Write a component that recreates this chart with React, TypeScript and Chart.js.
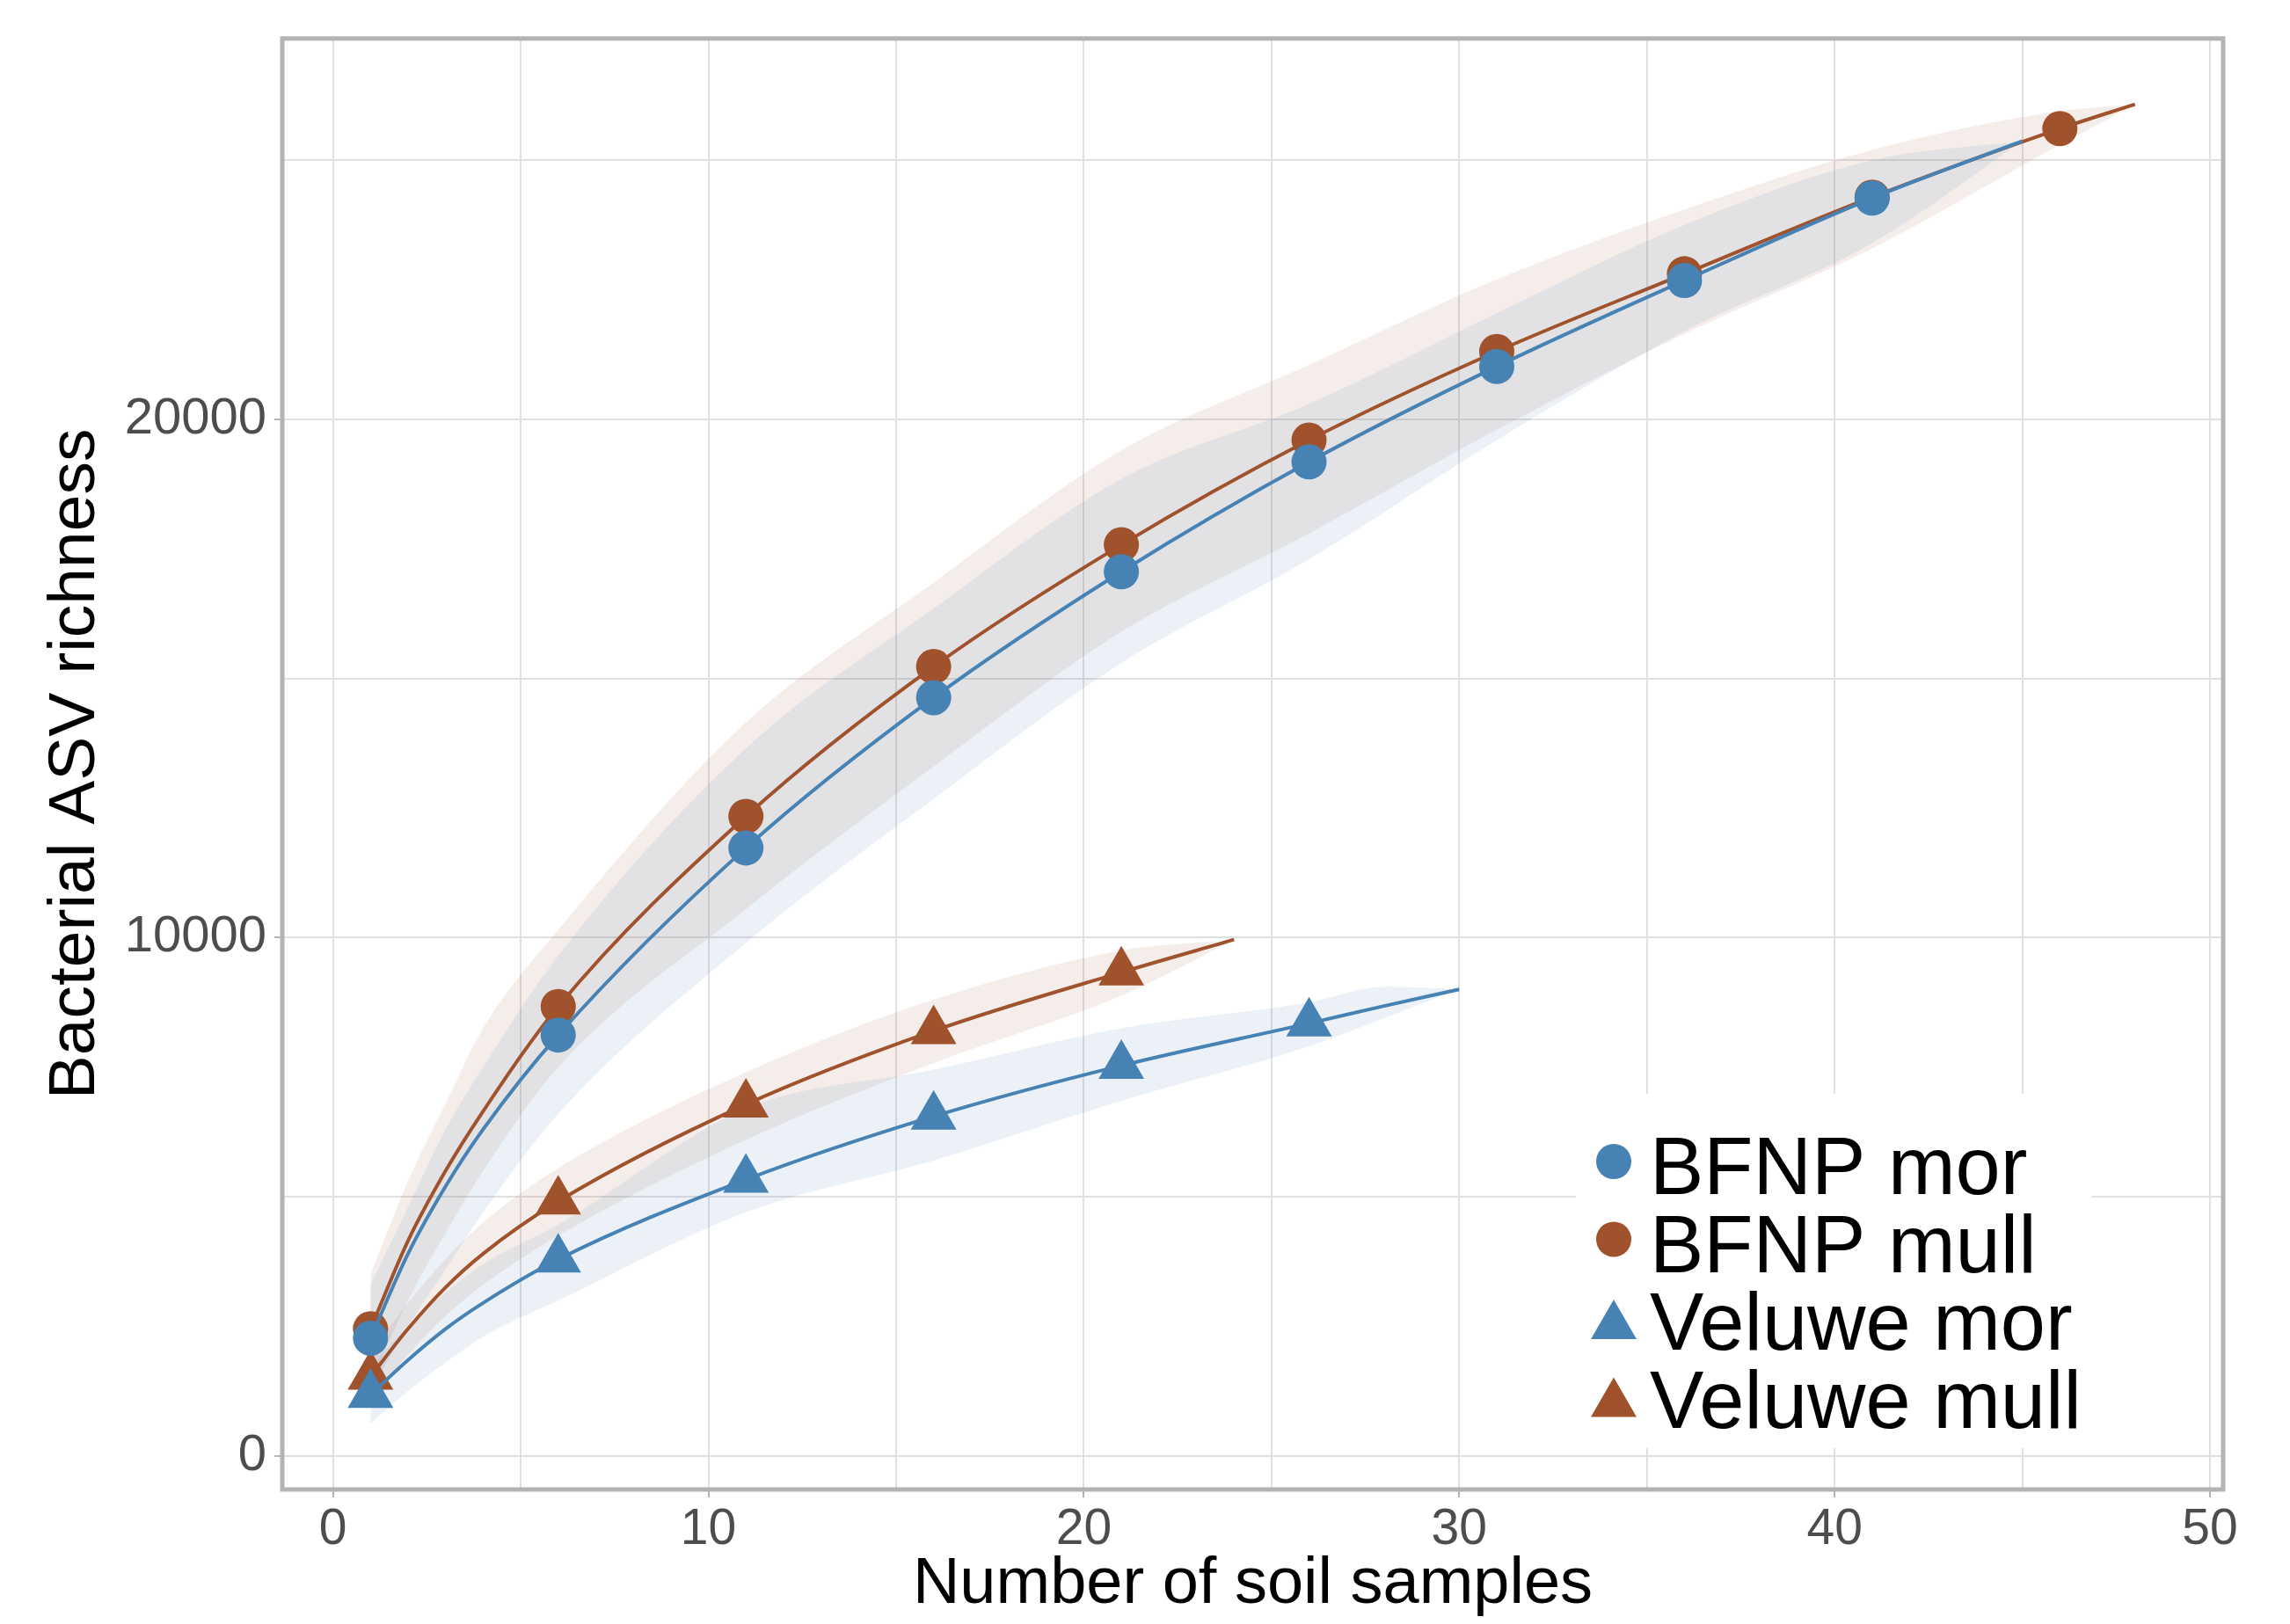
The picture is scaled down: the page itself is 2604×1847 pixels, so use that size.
import React, { useEffect, useRef } from 'react';
import { Chart, registerables } from 'chart.js';

Chart.register(...registerables);

// ---------------- data ----------------
const seriesLabels = ['BFNP mor', 'BFNP mull', 'Veluwe mor', 'Veluwe mull'];

const bfnpMorX = [1, 2, 3, 4, 6, 11, 16, 21, 26, 31, 36, 41, 45];
const bfnpMorY = [2270, 3900, 5200, 6300, 8120, 11730, 14630, 17060, 19180, 21020, 22680, 24270, 25370];
const bfnpMorUpper = [3300, 4800, 6300, 7500, 9650, 13650, 16350, 18850, 20300, 22050, 23750, 25000, 25370];
const bfnpMorLower = [1250, 2500, 3600, 4700, 6600, 9900, 12680, 15300, 17300, 19600, 21700, 23400, 25370];

const bfnpMullX = [1, 2, 3, 4, 6, 11, 16, 21, 26, 31, 36, 41, 46, 48];
const bfnpMullY = [2450, 4150, 5500, 6650, 8670, 12340, 15230, 17580, 19600, 21310, 22810, 24290, 25610, 26080];
const bfnpMullUpper = [3500, 5300, 6800, 8250, 10150, 14150, 16850, 19400, 21050, 22700, 24050, 25200, 25950, 26080];
const bfnpMullLower = [1400, 3000, 4300, 5500, 7500, 10550, 13300, 15900, 17800, 19800, 21650, 23300, 25300, 26080];

const veluweMorX = [1, 2, 3, 4, 6, 11, 16, 21, 26, 28, 30];
const veluweMorY = [1180, 1850, 2450, 2950, 3790, 5330, 6550, 7530, 8345, 8680, 9000];
const veluweMorUpper = [1700, 2500, 3150, 3700, 4460, 6700, 7450, 8250, 8750, 9050, 9000];
const veluweMorLower = [620, 1250, 1800, 2300, 3000, 4700, 5700, 6850, 7900, 8450, 9000];

const veluweMullX = [1, 2, 3, 4, 6, 11, 16, 21, 24];
const veluweMullY = [1530, 2450, 3250, 3900, 4910, 6780, 8200, 9330, 9960];
const veluweMullUpper = [2000, 2950, 3800, 4500, 5550, 7400, 8800, 9750, 9960];
const veluweMullLower = [1100, 1950, 2700, 3300, 4250, 6100, 7580, 8880, 9960];

const xGridValues = [0, 5, 10, 15, 20, 25, 30, 35, 40, 45, 50];
const yGridValues = [0, 5000, 10000, 15000, 20000, 25000];
const xTickLabels = [0, 10, 20, 30, 40, 50];
const yTickLabels = [0, 10000, 20000];

// ---------------- styling ----------------
const BLUE = '#4682B4';
const BROWN = '#A0522D';
const BLUE_BAND = 'rgba(70,130,180,0.11)';
const BROWN_BAND = 'rgba(160,82,45,0.10)';
const FONT = '"Liberation Sans", Arial, Helvetica, sans-serif';
const GRID = '#e0e0e0';
const BORDER = '#b3b3b3';

type Series = {
  label: string;
  xs: number[];
  ys: number[];
  upper: number[];
  lower: number[];
  color: string;
  band: string;
  shape: 'circle' | 'triangle';
};

const series: Series[] = [
  { label: seriesLabels[0], xs: bfnpMorX, ys: bfnpMorY, upper: bfnpMorUpper, lower: bfnpMorLower, color: BLUE, band: BLUE_BAND, shape: 'circle' },
  { label: seriesLabels[1], xs: bfnpMullX, ys: bfnpMullY, upper: bfnpMullUpper, lower: bfnpMullLower, color: BROWN, band: BROWN_BAND, shape: 'circle' },
  { label: seriesLabels[2], xs: veluweMorX, ys: veluweMorY, upper: veluweMorUpper, lower: veluweMorLower, color: BLUE, band: BLUE_BAND, shape: 'triangle' },
  { label: seriesLabels[3], xs: veluweMullX, ys: veluweMullY, upper: veluweMullUpper, lower: veluweMullLower, color: BROWN, band: BROWN_BAND, shape: 'triangle' },
];

const markerRadius = (shape: string) => (shape === 'circle' ? 20 : 30);
const isMarker = (x: number, xs: number[]) => (x - 1) % 5 === 0 && x !== xs[xs.length - 1];

function buildDatasets() {
  // drawing order: first dataset ends on top
  const lineOrder = [0, 2, 1, 3];
  const lines = lineOrder.map((i) => {
    const s = series[i];
    return {
      label: s.label,
      data: s.xs.map((x, k) => ({ x, y: s.ys[k] })),
      borderColor: s.color,
      backgroundColor: s.color,
      borderWidth: 4,
      pointStyle: s.shape,
      pointRadius: s.xs.map((x) => (isMarker(x, s.xs) ? markerRadius(s.shape) : 0)),
      pointHoverRadius: 0,
      pointBorderWidth: 0,
      pointBackgroundColor: s.color,
      pointBorderColor: s.color,
      cubicInterpolationMode: 'monotone' as const,
      fill: false,
    };
  });
  const bands: any[] = [];
  series.forEach((s) => {
    bands.push({
      label: s.label + ' upper',
      data: s.xs.map((x, k) => ({ x, y: s.upper[k] })),
      borderColor: 'transparent',
      borderWidth: 0,
      pointRadius: 0,
      pointHoverRadius: 0,
      backgroundColor: s.band,
      cubicInterpolationMode: 'monotone' as const,
      fill: '+1',
    });
    bands.push({
      label: s.label + ' lower',
      data: s.xs.map((x, k) => ({ x, y: s.lower[k] })),
      borderColor: 'transparent',
      borderWidth: 0,
      pointRadius: 0,
      pointHoverRadius: 0,
      backgroundColor: 'transparent',
      cubicInterpolationMode: 'monotone' as const,
      fill: false,
    });
  });
  return [...lines, ...bands];
}

function drawMarker(ctx: CanvasRenderingContext2D, shape: string, x: number, y: number, color: string) {
  const r = markerRadius(shape);
  ctx.fillStyle = color;
  ctx.beginPath();
  if (shape === 'circle') {
    ctx.arc(x, y, r, 0, Math.PI * 2);
  } else {
    const s = Math.sin((2 * Math.PI) / 3) * r;
    ctx.moveTo(x, y - r);
    ctx.lineTo(x + s, y + r / 2);
    ctx.lineTo(x - s, y + r / 2);
    ctx.closePath();
  }
  ctx.fill();
}

const decorPlugin = {
  id: 'panelDecor',
  afterDatasetsDraw(chart: any) {
    const ctx: CanvasRenderingContext2D = chart.ctx;
    ctx.save();
    // inset legend with white background
    const boxLeft = 1792, boxTop = 1244, boxW = 586, boxH = 403;
    ctx.fillStyle = '#ffffff';
    ctx.fillRect(boxLeft, boxTop, boxW, boxH);
    const markerX = 1835;
    const textX = 1876;
    const firstBaseline = 1358;
    const rowStep = 88.5;
    ctx.font = `92px ${FONT}`;
    ctx.textBaseline = 'alphabetic';
    ctx.textAlign = 'left';
    series.forEach((s, i) => {
      const base = firstBaseline + i * rowStep;
      const cy = base - 33;
      drawMarker(ctx, s.shape, markerX, s.shape === 'circle' ? cy - 4 : cy + 6, s.color);
      ctx.fillStyle = '#000000';
      ctx.fillText(s.label, textX, base);
    });
    ctx.restore();
  },
  afterDraw(chart: any) {
    const { ctx, chartArea } = chart;
    ctx.save();
    ctx.strokeStyle = BORDER;
    ctx.lineWidth = 5;
    ctx.strokeRect(chartArea.left, chartArea.top, chartArea.right - chartArea.left, chartArea.bottom - chartArea.top);
    ctx.restore();
  },
};

export default function App() {
  const canvasRef = useRef<HTMLCanvasElement>(null);

  useEffect(() => {
    const canvas = canvasRef.current;
    if (!canvas) return;
    const chart = new Chart(canvas, {
      type: 'line',
      data: { datasets: buildDatasets() as any },
      plugins: [decorPlugin],
      options: {
        animation: false,
        responsive: false,
        devicePixelRatio: 1,
        events: [],
        layout: { padding: { left: 0, top: 43, right: 76, bottom: 0 } },
        plugins: {
          legend: { display: false },
          tooltip: { enabled: false },
          filler: { drawTime: 'beforeDatasetsDraw', propagate: false },
        } as any,
        scales: {
          x: {
            type: 'linear',
            min: -1.35,
            max: 50.35,
            afterBuildTicks: (scale: any) => {
              scale.ticks = xGridValues.map((v) => ({ value: v }));
            },
            afterFit: (scale: any) => {
              scale.height = 153;
            },
            border: { display: false },
            grid: {
              color: GRID,
              lineWidth: 2,
              drawTicks: true,
              tickLength: 9,
              tickWidth: 2,
              tickColor: (ctx: any) =>
                ctx.tick && xTickLabels.includes(ctx.tick.value) ? BORDER : 'rgba(0,0,0,0)',
            },
            ticks: {
              autoSkip: false,
              maxRotation: 0,
              padding: 3,
              color: '#4d4d4d',
              font: { family: FONT, size: 57 },
              callback: (v: any) => (xTickLabels.includes(Number(v)) ? String(v) : ''),
            },
            title: {
              display: true,
              text: 'Number of soil samples',
              color: '#000000',
              font: { family: FONT, size: 74, lineHeight: 1.2 },
              padding: { top: 0, bottom: 0 },
            },
          },
          y: {
            type: 'linear',
            min: -650,
            max: 27350,
            afterBuildTicks: (scale: any) => {
              scale.ticks = yGridValues.map((v) => ({ value: v }));
            },
            afterFit: (scale: any) => {
              scale.width = 321;
            },
            border: { display: false },
            grid: {
              color: GRID,
              lineWidth: 2,
              drawTicks: true,
              tickLength: 9,
              tickWidth: 2,
              tickColor: (ctx: any) =>
                ctx.tick && yTickLabels.includes(ctx.tick.value) ? BORDER : 'rgba(0,0,0,0)',
            },
            ticks: {
              autoSkip: false,
              padding: 9,
              color: '#4d4d4d',
              font: { family: FONT, size: 58 },
              callback: (v: any) => (yTickLabels.includes(Number(v)) ? String(v) : ''),
            },
            title: {
              display: true,
              text: 'Bacterial ASV richness',
              color: '#000000',
              font: { family: FONT, size: 75, lineHeight: 1.2 },
              padding: { top: 41, bottom: 0 },
            },
          },
        },
      },
    });
    return () => chart.destroy();
  }, []);

  return (
    <div style={{ position: 'absolute', left: 0, top: 0, width: 2604, height: 1847, background: '#ffffff' }}>
      <canvas ref={canvasRef} width={2604} height={1847} style={{ width: 2604, height: 1847, display: 'block' }} />
    </div>
  );
}
